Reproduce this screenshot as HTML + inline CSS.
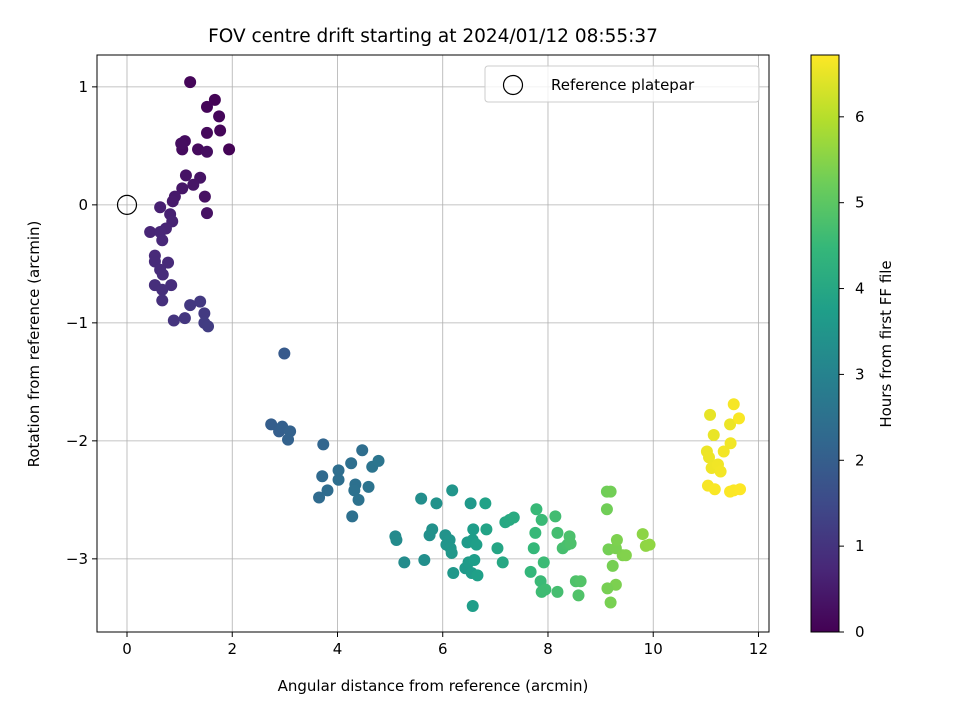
<!DOCTYPE html>
<html><head><meta charset="utf-8"><style>
body{margin:0;background:#fff;font-family:"Liberation Sans","DejaVu Sans",sans-serif}
svg text{font-family:"DejaVu Sans","Liberation Sans",sans-serif;fill:#000}
</style></head><body>
<svg id="chart" width="960" height="720" xmlns="http://www.w3.org/2000/svg">
<defs><linearGradient id="vir" x1="0" y1="1" x2="0" y2="0"></linearGradient></defs>
<rect width="960" height="720" fill="#fff"/>
<g id="grid"></g>
<g id="pts"></g>
<g id="axes"></g>
<text x="433" y="42" font-size="18.5" text-anchor="middle">FOV centre drift starting at 2024/01/12 08:55:37</text>
<text x="433" y="691" font-size="15" text-anchor="middle">Angular distance from reference (arcmin)</text>
<text transform="translate(39,344) rotate(-90)" font-size="15" text-anchor="middle">Rotation from reference (arcmin)</text>
<g>
<rect x="485" y="66" width="274" height="36" rx="3" fill="#fff" fill-opacity="0.8" stroke="#ccc"/>
<circle cx="513" cy="85" r="9.5" fill="none" stroke="#000" stroke-width="1.2"/>
<text x="551" y="90" font-size="15">Reference platepar</text>
</g>
<g id="cbar"></g>
<text transform="translate(891,344) rotate(-90)" font-size="15" text-anchor="middle">Hours from first FF file</text>
</svg>
<script>
const xTicks=[0,2,4,6,8,10,12];
const yTicks=[1,0,-1,-2,-3];
const yTickLabels=["1","0","\u22121","\u22122","\u22123"];
const cTicks=[0,1,2,3,4,5,6];
const xs=[1.20,1.67,1.52,1.75,1.52,1.77,1.05,1.94,1.10,1.35,1.52,1.03,1.48,1.52,1.12,1.39,1.26,1.05,0.91,0.87,
0.63,0.82,0.86,0.74,0.44,0.63,0.67,0.53,0.53,0.78,0.63,0.68,0.53,0.84,0.67,0.67,0.89,1.10,1.20,1.39,1.47,1.47,1.54,
2.74,2.89,2.95,3.10,3.06,2.99,3.73,3.71,3.81,3.65,4.02,4.02,4.26,4.34,4.32,4.28,4.40,4.47,4.59,4.66,4.78,
5.10,5.12,5.27,5.59,5.65,5.75,5.80,5.88,6.05,6.07,6.13,6.15,6.18,6.17,6.20,6.43,6.47,6.53,6.55,6.49,6.57,6.57,6.58,6.60,6.64,6.66,6.81,6.83,7.04,7.14,7.19,7.27,7.35,
7.67,7.73,7.76,7.78,7.88,7.86,7.92,7.88,7.95,8.14,8.18,8.18,8.28,8.37,8.41,8.43,8.53,8.58,8.62,
9.12,9.19,9.12,9.15,9.23,9.19,9.29,9.29,9.31,9.42,9.48,9.80,9.86,9.93,9.13,
11.08,11.15,11.02,11.06,11.11,11.23,11.34,11.28,11.46,11.47,11.53,11.63,11.04,11.17,11.46,11.53,11.65];
const ys=[1.04,0.89,0.83,0.75,0.61,0.63,0.47,0.47,0.54,0.47,0.45,0.52,0.07,-0.07,0.25,0.23,0.17,0.14,0.07,0.03,
-0.02,-0.08,-0.14,-0.20,-0.23,-0.23,-0.30,-0.43,-0.48,-0.49,-0.55,-0.59,-0.68,-0.68,-0.72,-0.81,-0.98,-0.96,-0.85,-0.82,-0.92,-1.00,-1.03,
-1.86,-1.92,-1.88,-1.92,-1.99,-1.26,-2.03,-2.30,-2.42,-2.48,-2.25,-2.33,-2.19,-2.37,-2.42,-2.64,-2.50,-2.08,-2.39,-2.22,-2.17,
-2.81,-2.84,-3.03,-2.49,-3.01,-2.80,-2.75,-2.53,-2.80,-2.88,-2.84,-2.91,-2.42,-2.95,-3.12,-3.08,-2.86,-2.53,-3.12,-3.03,-2.84,-3.40,-2.75,-3.01,-2.88,-3.14,-2.53,-2.75,-2.91,-3.03,-2.69,-2.67,-2.65,
-3.11,-2.91,-2.78,-2.58,-2.67,-3.19,-3.03,-3.28,-3.26,-2.64,-2.78,-3.28,-2.91,-2.88,-2.81,-2.87,-3.19,-3.31,-3.19,
-2.43,-2.43,-2.58,-2.92,-3.06,-3.37,-2.91,-3.22,-2.84,-2.97,-2.97,-2.79,-2.89,-2.88,-3.25,
-1.78,-1.95,-2.09,-2.14,-2.23,-2.20,-2.09,-2.26,-1.86,-2.02,-1.69,-1.81,-2.38,-2.41,-2.43,-2.42,-2.41];
const hours=[0.10,0.05,0.08,0.12,0.15,0.10,0.20,0.05,0.22,0.18,0.25,0.24,0.30,0.32,0.35,0.36,0.38,0.40,0.45,0.48,
0.60,0.62,0.65,0.68,0.70,0.72,0.75,0.78,0.80,0.80,0.82,0.85,0.88,0.86,0.90,0.92,1.00,1.05,1.10,1.12,1.15,1.18,1.20,
2.00,2.02,2.05,2.08,2.10,1.90,2.20,2.30,2.35,2.32,2.40,2.42,2.45,2.48,2.50,2.46,2.52,2.40,2.55,2.58,2.60,
3.20,3.22,3.25,3.30,3.32,3.35,3.38,3.40,3.45,3.48,3.50,3.52,3.50,3.55,3.58,3.62,3.65,3.60,3.68,3.66,3.70,3.72,3.70,3.74,3.76,3.78,3.85,3.88,3.95,4.00,4.02,4.05,4.10,
4.45,4.48,4.50,4.52,4.55,4.56,4.58,4.60,4.62,4.65,4.68,4.70,4.72,4.75,4.78,4.80,4.82,4.85,4.88,
5.25,5.28,5.26,5.30,5.32,5.34,5.36,5.38,5.40,5.42,5.45,5.55,5.58,5.60,5.33,
6.50,6.52,6.55,6.56,6.58,6.60,6.62,6.62,6.55,6.60,6.65,6.68,6.66,6.68,6.70,6.70,6.72];
const NS="http://www.w3.org/2000/svg";
const L=97,R=769,T=55,B=632,xMin=-0.57,xMax=12.2,yMin=-3.62,yMax=1.27,hMax=6.72;
const sx=v=>L+(v-xMin)/(xMax-xMin)*(R-L);
const sy=v=>B-(v-yMin)/(yMax-yMin)*(B-T);
const vir=[[68,1,84],[72,40,120],[62,74,137],[49,104,142],[38,130,142],[31,158,137],[53,183,121],[109,205,89],[180,222,44],[253,231,37]];
function col(h){let t=Math.max(0,Math.min(1,h/hMax))*(vir.length-1);let i=Math.min(vir.length-2,Math.floor(t)),f=t-i;
const c=vir[i].map((a,k)=>Math.round(a+(vir[i+1][k]-a)*f));return`rgb(${c})`;}
function el(tag,a,p){const e=document.createElementNS(NS,tag);for(const k in a)e.setAttribute(k,a[k]);p.appendChild(e);return e;}
const grid=document.getElementById('grid'),axes=document.getElementById('axes'),pts=document.getElementById('pts');
xTicks.forEach(t=>{const x=sx(t);
const g=el('line',{x1:x,x2:x,y1:T,y2:B,stroke:'#b0b0b0','stroke-width':0.8},grid);

el('line',{x1:x,x2:x,y1:B,y2:B+5,stroke:'#000'},axes);
const tx=el('text',{x:x,y:B+22,'font-size':15,'text-anchor':'middle'},axes);tx.textContent=t;
});
yTicks.forEach((t,i)=>{const y=sy(t);
const g=el('line',{x1:L,x2:R,y1:y,y2:y,stroke:'#b0b0b0','stroke-width':0.8},grid);

el('line',{x1:L-5,x2:L,y1:y,y2:y,stroke:'#000'},axes);
const tx=el('text',{x:L-9,y:y+5,'font-size':15,'text-anchor':'end'},axes);tx.textContent=yTickLabels[i];
});
el('rect',{x:L,y:T,width:R-L,height:B-T,fill:'none',stroke:'#000','stroke-width':1},axes);
xs.forEach((x,i)=>{const c=el('circle',{cx:sx(x),cy:sy(ys[i]),r:6.0,fill:col(hours[i])},pts);
});
const ref=el('circle',{cx:sx(0),cy:sy(0),r:9.5,fill:'none',stroke:'#000','stroke-width':1.2},pts);

const gr=document.getElementById('vir');
vir.forEach((c,i)=>el('stop',{offset:i/(vir.length-1),'stop-color':`rgb(${c})`},gr));
const cb=document.getElementById('cbar');const cx0=811,cx1=839;
el('rect',{x:cx0,y:T,width:cx1-cx0,height:B-T,fill:'url(#vir)',stroke:'#000','stroke-width':1},cb);
cTicks.forEach(t=>{const y=B-t/hMax*(B-T);
el('line',{x1:cx1,x2:cx1+5,y1:y,y2:y,stroke:'#000'},cb);
const tx=el('text',{x:cx1+16,y:y+5,'font-size':15},cb);tx.textContent=t;
});
</script>
</body></html>
